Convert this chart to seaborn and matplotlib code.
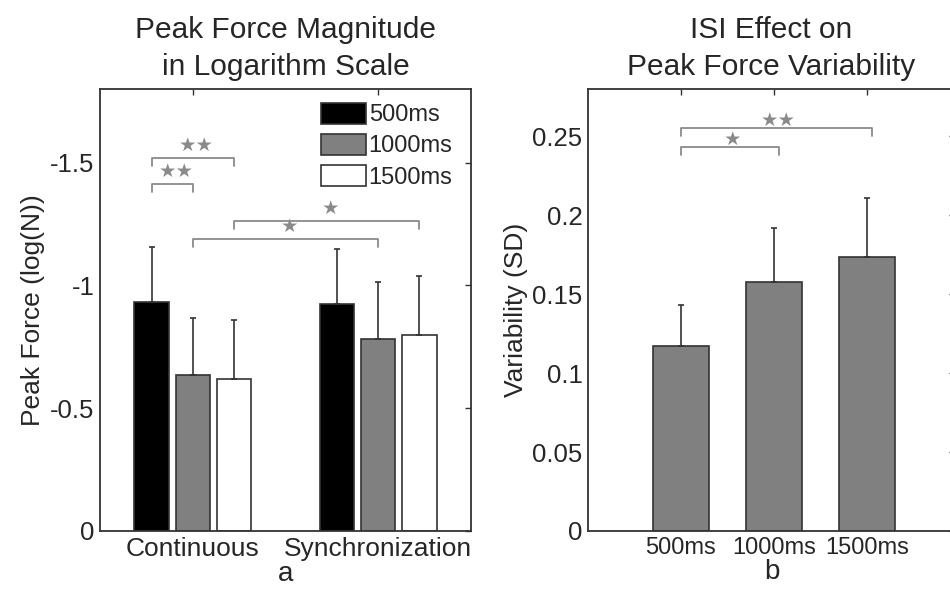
import pandas as pd
import matplotlib.pyplot as plt
import seaborn as sns

# Panel a: peak force magnitude (log scale, shown on inverted axis)
conditions = ['Continuous', 'Synchronization']
isi_levels = ['500ms', '1000ms', '1500ms']
force_500 = [-0.931, -0.925]
force_1000 = [-0.635, -0.783]
force_1500 = [-0.617, -0.797]
force_err_500 = [0.224, 0.224]
force_err_1000 = [0.232, 0.233]
force_err_1500 = [0.241, 0.241]

# Panel b: peak force variability
var_labels = ['500ms', '1000ms', '1500ms']
var_values = [0.1174, 0.158, 0.1738]
var_err = [0.026, 0.034, 0.037]

# significance brackets: ((cond, isi), (cond, isi), y_line, label)
force_sig = [
    (('Continuous', '500ms'), ('Continuous', '1000ms'), -1.415, '★★'),
    (('Continuous', '500ms'), ('Continuous', '1500ms'), -1.52, '★★'),
    (('Continuous', '1000ms'), ('Synchronization', '1000ms'), -1.19, '★'),
    (('Continuous', '1500ms'), ('Synchronization', '1500ms'), -1.264, '★'),
]
var_sig = [
    ('500ms', '1000ms', 0.243, '★'),
    ('500ms', '1500ms', 0.255, '★★'),
]

sns.set_theme(style="white")
plt.rcParams['font.family'] = ['Liberation Sans', 'DejaVu Sans']

edge = '#333333'
sig_col = '#8a8a8a'

fig = plt.figure(figsize=(9.5, 5.89), dpi=100)
W, H = 950, 589
ax1 = fig.add_axes([100 / W, 1 - 531 / H, 371 / W, 442 / H])
ax2 = fig.add_axes([588 / W, 1 - 531 / H, 367 / W, 442 / H])

# ---- panel a ----
rows = []
for vals, errs, isi in [(force_500, force_err_500, '500ms'),
                        (force_1000, force_err_1000, '1000ms'),
                        (force_1500, force_err_1500, '1500ms')]:
    for c, v, e in zip(conditions, vals, errs):
        rows.append({'cond': c, 'isi': isi, 'value': v, 'err': e})
df = pd.DataFrame(rows)

sns.barplot(data=df, x='cond', y='value', hue='isi', hue_order=isi_levels,
            order=conditions, palette=['black', '#808080', 'white'],
            width=0.667, gap=0.17, edgecolor=edge, linewidth=1.2,
            errorbar=None, legend=False, ax=ax1)

centers = {}
for isi, cont in zip(isi_levels, ax1.containers):
    for c, bar in zip(conditions, cont):
        centers[(c, isi)] = bar.get_x() + bar.get_width() / 2

for _, r in df.iterrows():
    ax1.errorbar(centers[(r['cond'], r['isi'])], r['value'], yerr=[[r['err']], [0]],
                 fmt='none', ecolor=edge, elinewidth=1.2, capsize=2, capthick=1.2)

for a, b, y, lab in force_sig:
    x0, x1 = centers[a], centers[b]
    ax1.plot([x0, x0, x1, x1], [y + 0.035, y, y, y + 0.035], color=sig_col, lw=1.3)
    ax1.text((x0 + x1) / 2 + 0.02, y - 0.01, lab, ha='center', va='bottom', color=sig_col,
             fontsize=14, family='DejaVu Sans')

ax1.set_xlim(-0.5, 1.5)
ax1.set_ylim(0, -1.8)
ax1.set_yticks([0, -0.5, -1, -1.5])
ax1.set_yticklabels(['0', '-0.5', '-1', '-1.5'])
ax1.set_xlabel('a', fontsize=20, labelpad=0.5)
ax1.set_ylabel('Peak Force (log(N))', fontsize=19, labelpad=4)
ax1.set_title('Peak Force Magnitude\nin Logarithm Scale', fontsize=21.5, pad=10, linespacing=1.4)

handles = [plt.Rectangle((0, 0), 1, 1, facecolor=c, edgecolor=edge, lw=1.2)
           for c in ['black', '#808080', 'white']]
ax1.legend(handles, isi_levels, loc='upper left', bbox_to_anchor=(0.546, 1.012),
           frameon=False, fontsize=17, handlelength=1.9, handleheight=1.0,
           labelspacing=0.32, handletextpad=0.1, borderpad=0.3)

# ---- panel b ----
dfv = pd.DataFrame({'isi': var_labels, 'value': var_values, 'err': var_err})
sns.barplot(data=dfv, x='isi', y='value', color='#808080', width=0.6,
            saturation=1, edgecolor=edge, linewidth=1.2, errorbar=None, ax=ax2)
vcent = {}
for lab, bar in zip(var_labels, ax2.containers[0]):
    vcent[lab] = bar.get_x() + bar.get_width() / 2
ax2.errorbar([vcent[l] for l in var_labels], var_values, yerr=[[0] * 3, var_err],
             fmt='none', ecolor=edge, elinewidth=1.2, capsize=2, capthick=1.2)

for a, b, y, lab in var_sig:
    x0, x1 = vcent[a], vcent[b] + 0.06
    ax2.plot([x0, x0, x1, x1], [y - 0.005, y, y, y - 0.005], color=sig_col, lw=1.3)
    ax2.text((vcent[a] + vcent[b]) / 2 + 0.05, y - 0.001, lab, ha='center', va='bottom',
             color=sig_col, fontsize=14, family='DejaVu Sans')

ax2.set_xlim(-1, 2.95)
ax2.set_ylim(0, 0.28)
ax2.set_yticks([0, 0.05, 0.1, 0.15, 0.2, 0.25])
ax2.set_yticklabels(['0', '0.05', '0.1', '0.15', '0.2', '0.25'])
ax2.set_xlabel('b', fontsize=20, labelpad=0.5)
ax2.set_ylabel('Variability (SD)', fontsize=19, labelpad=3)
ax2.set_title('ISI Effect on\nPeak Force Variability', fontsize=21.5, pad=10, linespacing=1.4)

for ax in (ax1, ax2):
    ax.tick_params(direction='in', top=True, right=True, length=4, width=1,
                   color=edge, labelsize=18.5, pad=4)
    for s in ax.spines.values():
        s.set_color(edge)
        s.set_linewidth(1.3)
ax1.tick_params(axis='x', labelsize=19)
ax2.tick_params(axis='x', labelsize=17)

fig.savefig('out.png', dpi=100)
